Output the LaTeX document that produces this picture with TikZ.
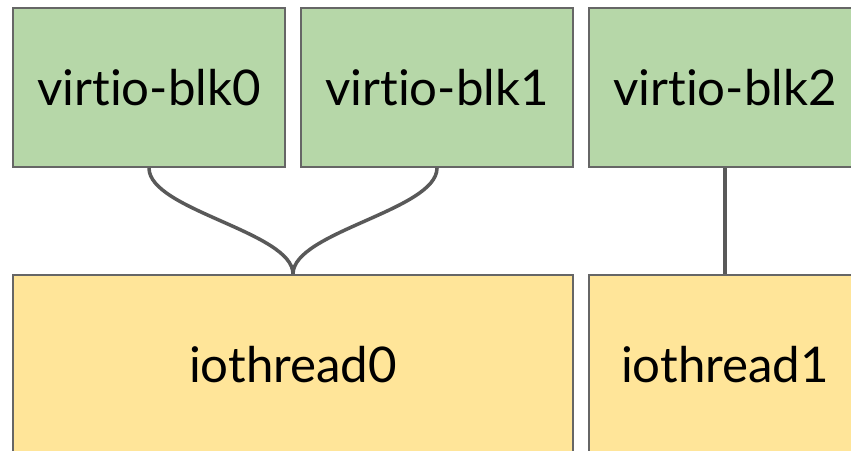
\documentclass[tikz,border=0pt]{standalone}
\usepackage{fontspec}
\setmainfont{Lato}[Ligatures={NoCommon}]
\usepackage{xcolor}
\definecolor{blkgreen}{HTML}{B6D7A8}
\definecolor{threadyellow}{HTML}{FFE599}
\definecolor{edgegrey}{HTML}{666666}
\definecolor{linkgrey}{HTML}{595959}
\begin{document}
\begin{tikzpicture}[x=0.02cm,y=-0.02cm,
  box/.style={draw=edgegrey,line width=1.2pt,inner sep=0pt,
    font=\fontsize{28}{33}\selectfont,text=black},
  blk/.style={box,fill=blkgreen,minimum width=5.44cm,minimum height=3.18cm},
  thread/.style={box,fill=threadyellow,minimum height=3.6cm},
  link/.style={draw=linkgrey,line width=2pt}]
  \useasboundingbox (0,0) rectangle (851,450);
  \clip (0,0) rectangle (851,450);
  \node[blk] (blk0) at (149,87.5) {virtio-blk0};
  \node[blk] (blk1) at (437,87.5) {virtio-blk1};
  \node[blk] (blk2) at (725,87.5) {virtio-blk2};
  \node[thread,minimum width=11.2cm] (io0) at (293,365) {iothread0};
  \node[thread,minimum width=5.44cm] (io1) at (725,365) {iothread1};
  \draw[link] (blk0.south) .. controls +(0,42) and +(0,-42) .. (io0.north);
  \draw[link] (blk1.south) .. controls +(0,42) and +(0,-42) .. (io0.north);
  \draw[link] (blk2.south) -- (io1.north);
\end{tikzpicture}
\end{document}
